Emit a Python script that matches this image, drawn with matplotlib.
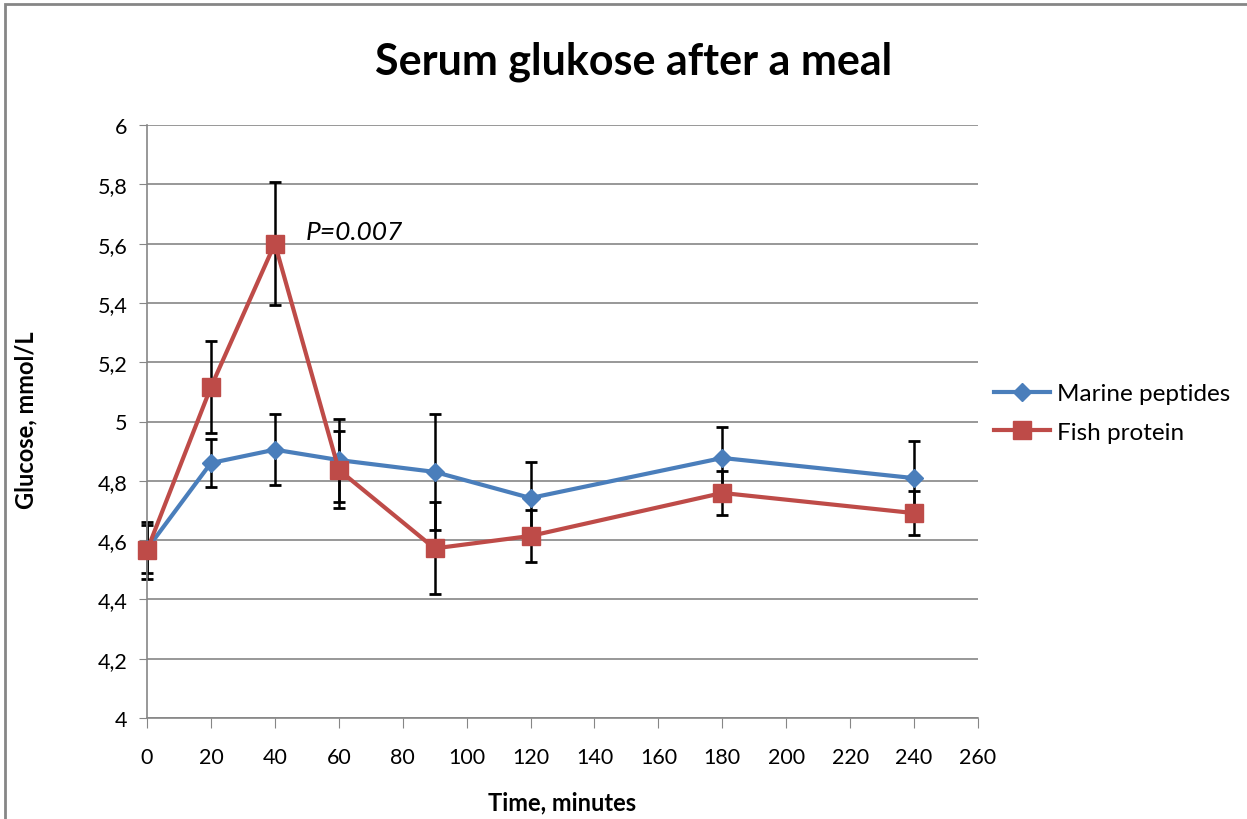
import numpy as np
import matplotlib
matplotlib.use("Agg")
import matplotlib.pyplot as plt
from matplotlib.patches import Rectangle

# data
time_min = [0, 20, 40, 60, 90, 120, 180, 240]
marine = [4.57, 4.86, 4.905, 4.87, 4.83, 4.742, 4.877, 4.809]
marine_err = [0.08, 0.08, 0.12, 0.14, 0.196, 0.12, 0.105, 0.125]
fish = [4.565, 5.116, 5.60, 4.837, 4.572, 4.614, 4.759, 4.691]
fish_err = [0.095, 0.155, 0.207, 0.13, 0.155, 0.088, 0.074, 0.074]

x_ticks = list(range(0, 261, 20))
y_ticks = [4.0, 4.2, 4.4, 4.6, 4.8, 5.0, 5.2, 5.4, 5.6, 5.8, 6.0]
y_tick_labels = ["4", "4,2", "4,4", "4,6", "4,8", "5", "5,2", "5,4", "5,6", "5,8", "6"]

blue = "#4A7EBB"
red = "#BE4B48"
grid_col = "#868686"

plt.rcParams['font.family'] = ['Lato', 'DejaVu Sans']

fig = plt.figure(figsize=(12.47, 8.2), dpi=100)
ax = fig.add_axes([147/1247, 1-719/820, (978-147)/1247, (719-126)/820])

# outer chart border (only left and top visible)
fig.patches.append(Rectangle((5/1247, -0.1), 1.2, 1-5/820+0.1, transform=fig.transFigure,
                             fill=False, edgecolor="#868686", linewidth=2))

for vals, errs in [(marine, marine_err), (fish, fish_err)]:
    eb = ax.errorbar(time_min, vals, yerr=errs, fmt='none', ecolor='black',
                     elinewidth=1.8, capsize=4.5, capthick=2, zorder=2)
    for art in eb.lines[1] + eb.lines[2]:
        art.set_clip_on(False)

ax.plot(time_min, marine, color=blue, lw=3, marker='D', markersize=9,
        label="Marine peptides", zorder=3, clip_on=False)
ax.plot(time_min, fish, color=red, lw=3, marker='s', markersize=13,
        label="Fish protein", zorder=4, clip_on=False)

ax.text(49.5, 5.64, "P=0.007", fontsize=19, style='italic', va='center', ha='left')

ax.set_xlim(0, 260)
ax.set_ylim(4, 6)
ax.set_xticks(x_ticks)
ax.set_yticks(y_ticks)
ax.set_yticklabels(y_tick_labels)
ax.tick_params(axis='x', length=7, color=grid_col, labelsize=15.5, pad=14)
ax.tick_params(axis='y', length=6, color=grid_col, labelsize=15.5, pad=8)
ax.yaxis.grid(True, color=grid_col, linewidth=1.2)
ax.set_axisbelow(True)
for s in ['top', 'right']:
    ax.spines[s].set_visible(False)
for s in ['left', 'bottom']:
    ax.spines[s].set_color(grid_col)
    ax.spines[s].set_linewidth(1.2)

fig.text(634/1247, 1-62/820, "Serum glukose after a meal", fontsize=31,
         fontweight='bold', ha='center', va='center')
fig.text(562/1247, 1-803/820, "Time, minutes", fontsize=17, fontweight='bold',
         ha='center', va='center')
fig.text(26/1247, 1-420/820, "Glucose, mmol/L", fontsize=17, fontweight='bold',
         ha='center', va='center', rotation=90)

ax.legend(loc='center left', bbox_to_anchor=(978/1247 - 0.005, 1-414/820),
          bbox_transform=fig.transFigure, frameon=False, fontsize=17.5,
          handlelength=2.3, handletextpad=0.3, labelspacing=0.7)

fig.savefig("out.png", dpi=100)
